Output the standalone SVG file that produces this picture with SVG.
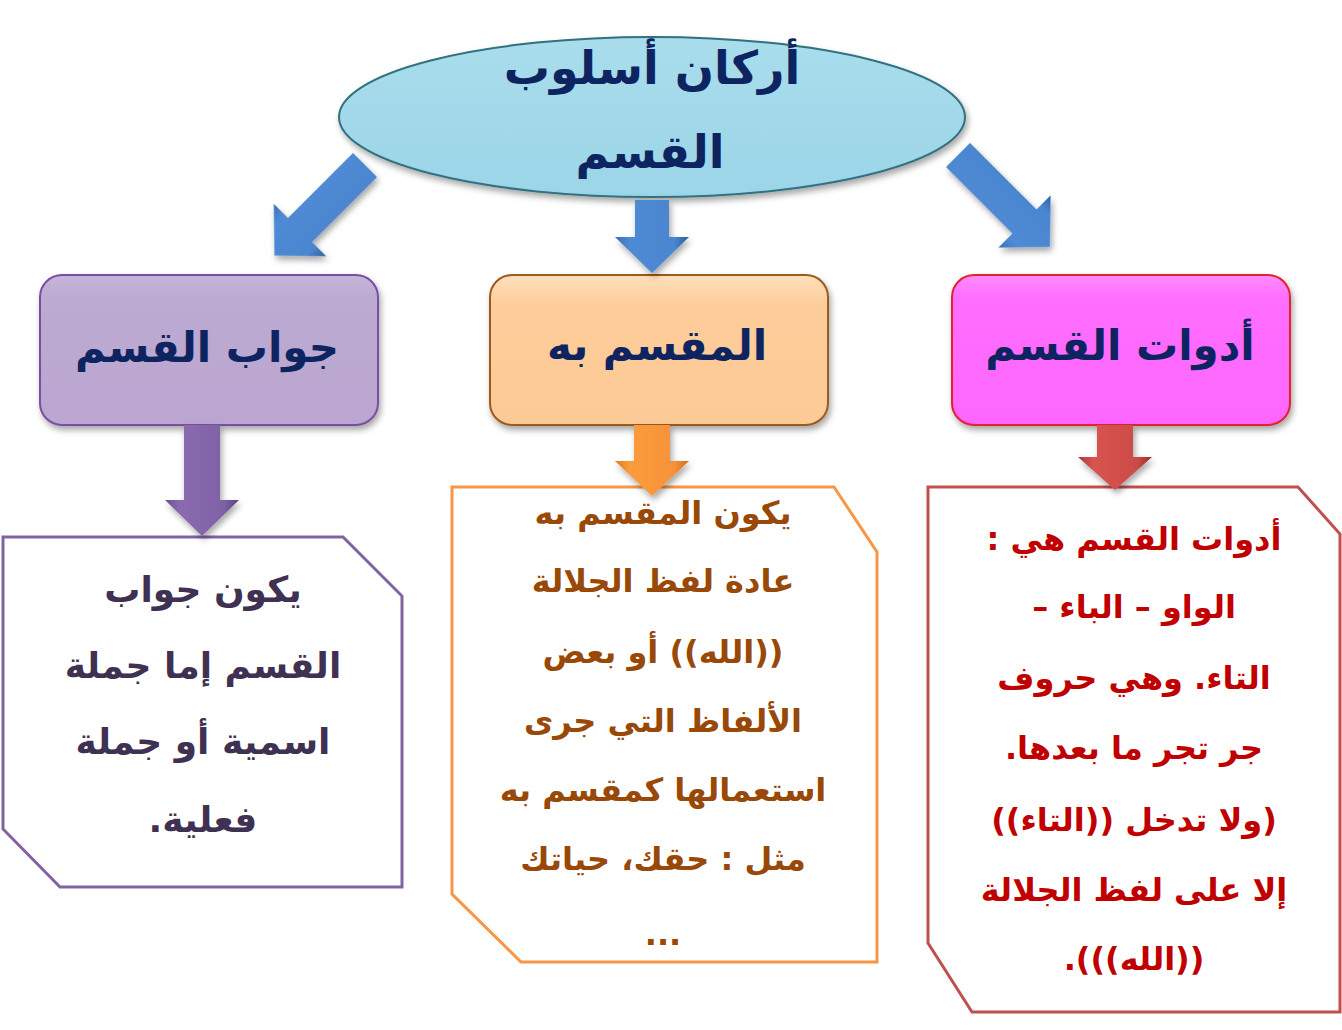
<svg xmlns="http://www.w3.org/2000/svg" width="1342" height="1030" viewBox="0 0 1342 1030">
<style>
text{font-family:"DejaVu Sans",sans-serif;font-weight:bold;text-anchor:middle;direction:rtl}
.t-title{font-size:46px;fill:#0e2460}
.t-head{font-size:42px;fill:#0e2460}
.t-purple{font-size:36px;fill:#3f3151}
.t-orange{font-size:32px;fill:#984807}
.t-red{font-size:32px;fill:#c00000}
.box{stroke-width:2;filter:url(#sh)}
.card{fill:#ffffff;stroke-width:3}
</style>
<defs>
<filter id="sh" x="-10%" y="-10%" width="125%" height="130%">
<feDropShadow dx="2" dy="4" stdDeviation="3" flood-color="#000" flood-opacity="0.35"/>
</filter>
<linearGradient id="gEll" x1="0" y1="0" x2="0" y2="1">
<stop offset="0" stop-color="#a9ddec"/><stop offset="1" stop-color="#9bd5e8"/>
</linearGradient>
<linearGradient id="gPur" x1="0" y1="0" x2="0" y2="1">
<stop offset="0" stop-color="#c6b4da"/><stop offset="0.15" stop-color="#bdaad2"/><stop offset="1" stop-color="#baa6d0"/>
</linearGradient>
<linearGradient id="gOra" x1="0" y1="0" x2="0" y2="1">
<stop offset="0" stop-color="#fde0bb"/><stop offset="0.2" stop-color="#fdcd9b"/><stop offset="1" stop-color="#fcca96"/>
</linearGradient>
<linearGradient id="gPink" x1="0" y1="0" x2="0" y2="1">
<stop offset="0" stop-color="#ff8bff"/><stop offset="0.15" stop-color="#ff6eff"/><stop offset="1" stop-color="#fd66fd"/>
</linearGradient>
<linearGradient id="aBlue" x1="0" y1="0" x2="1" y2="0">
<stop offset="0" stop-color="#3b6fb6"/><stop offset="0.2" stop-color="#4f8bd4"/><stop offset="0.8" stop-color="#4a86cf"/><stop offset="1" stop-color="#2f5e9e"/>
</linearGradient>
<linearGradient id="aPur" x1="0" y1="0" x2="1" y2="0">
<stop offset="0" stop-color="#6a4e8e"/><stop offset="0.2" stop-color="#8a6bb0"/><stop offset="0.8" stop-color="#7f61a6"/><stop offset="1" stop-color="#5c4380"/>
</linearGradient>
<linearGradient id="aOra" x1="0" y1="0" x2="1" y2="0">
<stop offset="0" stop-color="#e07a20"/><stop offset="0.2" stop-color="#fb9c3c"/><stop offset="0.8" stop-color="#f7923a"/><stop offset="1" stop-color="#d06e18"/>
</linearGradient>
<linearGradient id="aRed" x1="0" y1="0" x2="1" y2="0">
<stop offset="0" stop-color="#a83a38"/><stop offset="0.2" stop-color="#d9534f"/><stop offset="0.8" stop-color="#cc4c48"/><stop offset="1" stop-color="#982e2c"/>
</linearGradient>
</defs>

<g id="title">
<ellipse cx="652" cy="117" rx="313" ry="80" fill="url(#gEll)" stroke="#31717f" stroke-width="2" filter="url(#sh)"/>
<text class="t-title" x="652" y="84">أركان أسلوب</text>
<text class="t-title" x="650" y="168">القسم</text>
</g>

<g id="node-answer">
<rect class="box" x="40" y="275" width="338" height="150" rx="22" fill="url(#gPur)" stroke="#7a4fa3"/>
<text class="t-head" x="207" y="362">جواب القسم</text>
</g>

<g id="node-muqsam">
<rect class="box" x="490" y="275" width="338" height="150" rx="22" fill="url(#gOra)" stroke="#9c5a1e"/>
<text class="t-head" x="657" y="360">المقسم به</text>
</g>

<g id="node-adawat">
<rect class="box" x="952" y="275" width="338" height="150" rx="22" fill="url(#gPink)" stroke="#e3222e"/>
<text class="t-head" x="1120" y="360">أدوات القسم</text>
</g>

<g id="detail-answer">
<polygon class="card" points="3,537 343,537 402,596 402,887 60,887 3,829" stroke="#8064a2"/>
<text class="t-purple" x="203" y="602">يكون جواب</text>
<text class="t-purple" x="203" y="678">القسم إما جملة</text>
<text class="t-purple" x="203" y="754">اسمية أو جملة</text>
<text class="t-purple" x="203" y="832">فعلية.</text>
</g>

<g id="detail-muqsam">
<polygon class="card" points="452,487 834,487 877,552 877,962 521,962 452,894" stroke="#f79646"/>
<text class="t-orange" x="663" y="524">يكون المقسم به</text>
<text class="t-orange" x="663" y="592">عادة لفظ الجلالة</text>
<text class="t-orange" x="663" y="663">((الله)) أو بعض</text>
<text class="t-orange" x="663" y="732">الألفاظ التي جرى</text>
<text class="t-orange" x="663" y="801">استعمالها كمقسم به</text>
<text class="t-orange" x="663" y="870">مثل : حقك، حياتك</text>
<text class="t-orange" x="663" y="945">...</text>
</g>

<g id="detail-adawat">
<polygon class="card" points="928,487 1298,487 1340,534 1340,1012 972,1012 928,943" stroke="#c0504d"/>
<text class="t-red" x="1134" y="550">أدوات القسم هي :</text>
<text class="t-red" x="1134" y="618">الواو – الباء –</text>
<text class="t-red" x="1134" y="689">التاء. وهي حروف</text>
<text class="t-red" x="1134" y="759">جر تجر ما بعدها.</text>
<text class="t-red" x="1134" y="831">(ولا تدخل ((التاء))</text>
<text class="t-red" x="1134" y="901">إلا على لفظ الجلالة</text>
<text class="t-red" x="1134" y="970">((الله))).</text>
</g>

<g id="connectors" filter="url(#sh)">
<polygon transform="translate(652,200)" points="-17,0 17,0 17,37 37,37 0,73 -37,37 -17,37" fill="url(#aBlue)"/>
<polygon transform="translate(365,165) rotate(45)" points="-17,0 17,0 17,92 37,92 0,128 -37,92 -17,92" fill="url(#aBlue)"/>
<polygon transform="translate(958,155) rotate(-45)" points="-17,0 17,0 17,94 37,94 0,130 -37,94 -17,94" fill="url(#aBlue)"/>
<polygon transform="translate(202,425)" points="-18,0 18,0 18,75 37,75 0,111 -37,75 -18,75" fill="url(#aPur)"/>
<polygon transform="translate(652,425)" points="-18,0 18,0 18,36 37,36 0,71 -37,36 -18,36" fill="url(#aOra)"/>
<polygon transform="translate(1115,425)" points="-18,0 18,0 18,32 37,32 0,65 -37,32 -18,32" fill="url(#aRed)"/>
</g>
</svg>
